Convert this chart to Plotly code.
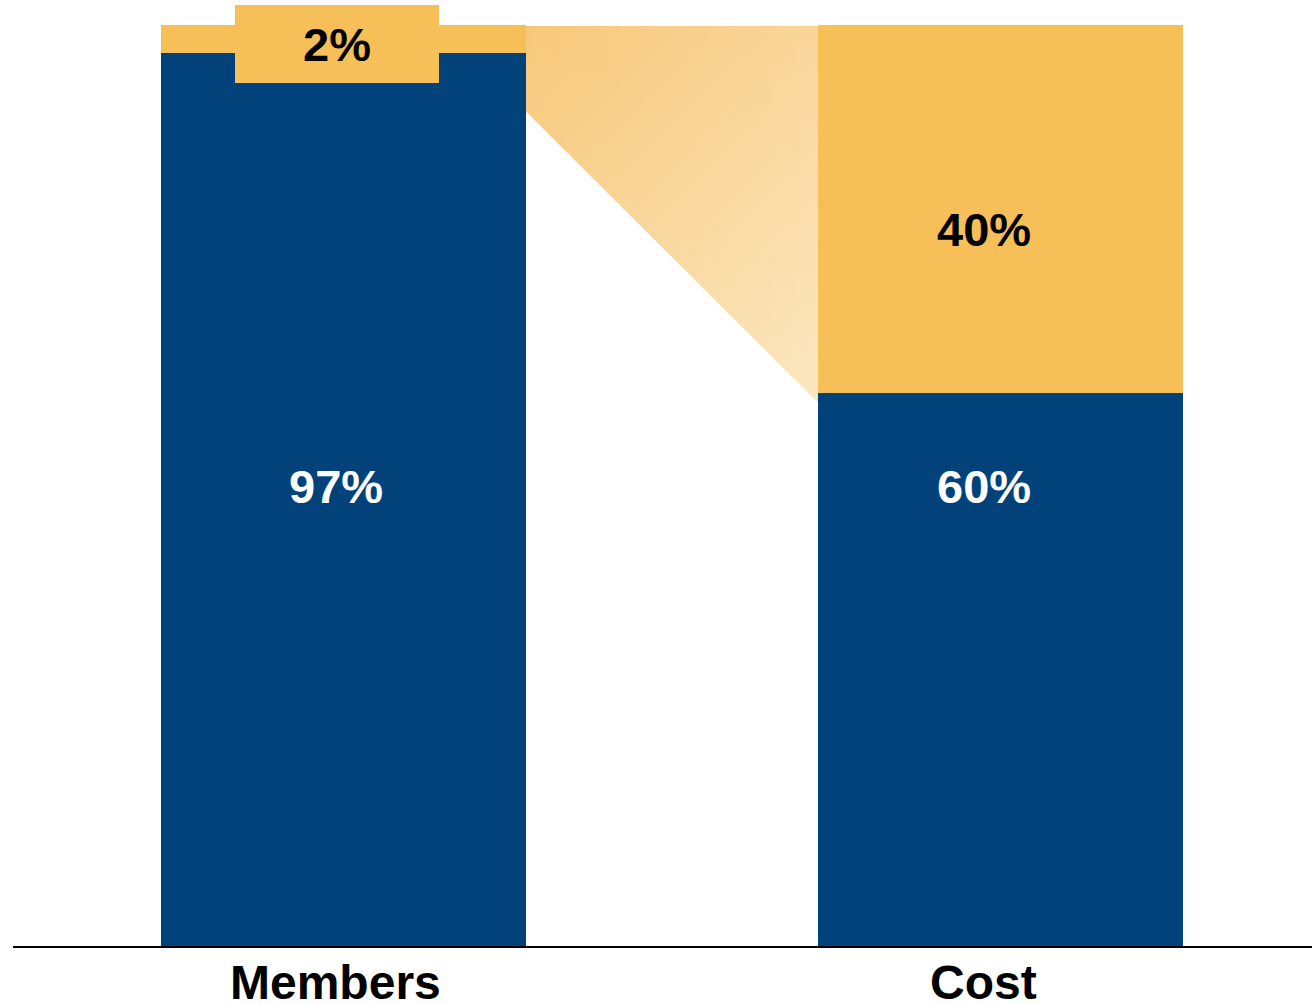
import plotly.graph_objects as go

# ---- data ----
categories = ["Members", "Cost"]
blue_values = [97, 60]
yellow_values = [3, 40]
blue_labels = ["97%", "60%"]
yellow_labels = ["2%", "40%"]

BLUE = "#01427A"
YELLOW = "#F7BF57"
GRAD_DARK = (247, 200, 122)
GRAD_LIGHT = (251, 231, 192)

bar_width = 0.5556
x_pos = list(range(len(categories)))

fig = go.Figure()

# ---- connector (gradient trapezoid) between Members top segment and Cost top segment ----
x_left = x_pos[0] + bar_width / 2
x_right = x_pos[1] - bar_width / 2
top_val = 99.9
left_bottom = 90.6
right_bottom = 59.0

px_per_x = 657.0
px_per_y = 9.21


def bottom_at(x):
    f = (x - x_left) / (x_right - x_left)
    return left_bottom + (right_bottom - left_bottom) * f


span = (x_right - x_left) * px_per_x + (top_val - right_bottom) * px_per_y


def color_at(x, y):
    t = ((x - x_left) * px_per_x + (top_val - y) * px_per_y) / span
    t = max(0.0, min(1.0, t))
    c = [round(GRAD_DARK[i] + (GRAD_LIGHT[i] - GRAD_DARK[i]) * t) for i in range(3)]
    return "rgb(%d,%d,%d)" % tuple(c)


N = 40
dx = (x_right - x_left) / N
for i in range(N):
    xa = x_left + i * dx
    xb = min(x_right, xa + dx * 1.6)
    xm = (xa + xb) / 2
    yb_m = bottom_at(xm)
    fig.add_trace(go.Scatter(
        x=[xa, xb, xb, xa, xa],
        y=[top_val, top_val, bottom_at(xb), bottom_at(xa), top_val],
        mode="lines",
        line=dict(width=0, color="rgba(0,0,0,0)"),
        fill="toself",
        fillgradient=dict(
            type="vertical",
            colorscale=[[0, color_at(xm, yb_m)], [1, color_at(xm, top_val)]],
            start=yb_m,
            stop=top_val,
        ),
        hoverinfo="skip",
        showlegend=False,
    ))

# ---- stacked bars ----
fig.add_trace(go.Bar(x=x_pos, y=blue_values, width=bar_width,
                     marker=dict(color=BLUE, line=dict(width=0)),
                     hoverinfo="skip", showlegend=False))
fig.add_trace(go.Bar(x=x_pos, y=yellow_values, width=bar_width,
                     marker=dict(color=YELLOW, line=dict(width=0)),
                     hoverinfo="skip", showlegend=False))

# ---- labels ----
FONT = "Liberation Sans, Arial, sans-serif"
label_shift = [-8, -17]
label_y_blue = 49.93
for i in range(len(categories)):
    fig.add_annotation(x=x_pos[i], y=label_y_blue, text="<b>%s</b>" % blue_labels[i],
                       showarrow=False, xshift=label_shift[i],
                       font=dict(family=FONT, size=47, color="white"))
    # category label below the axis
    fig.add_annotation(x=x_pos[i], y=0, yanchor="middle", yshift=-36,
                       text="<b>%s</b>" % categories[i],
                       showarrow=False, xshift=label_shift[i],
                       font=dict(family=FONT, size=48, color="black"))

fig.add_annotation(x=x_pos[1], y=77.8, text="<b>%s</b>" % yellow_labels[1],
                   showarrow=False, xshift=label_shift[1],
                   font=dict(family=FONT, size=47, color="black"))
fig.add_annotation(x=x_pos[0], y=97.94, text="<b>%s</b>" % yellow_labels[0],
                   showarrow=False, xshift=-7, width=204, height=78,
                   bgcolor=YELLOW, borderpad=0, borderwidth=0,
                   font=dict(family=FONT, size=47, color="black"))

fig.update_layout(
    width=1312, height=1004,
    margin=dict(l=13, r=0, t=0, b=58, autoexpand=False),
    barmode="stack",
    bargap=0,
    plot_bgcolor="white",
    paper_bgcolor="white",
    xaxis=dict(
        range=[-0.503, 1.474],
        showticklabels=False,
        automargin=False,
        showline=True, linecolor="black", linewidth=2,
        showgrid=False, zeroline=False, ticks="",
        fixedrange=True,
    ),
    yaxis=dict(
        range=[0, 102.71],
        visible=False,
        automargin=False,
        showgrid=False, zeroline=False,
        fixedrange=True,
    ),
)

fig.write_html("out.html", config={"displayModeBar": False},
               post_script="document.body.style.margin='0';document.body.style.overflow='hidden';")
